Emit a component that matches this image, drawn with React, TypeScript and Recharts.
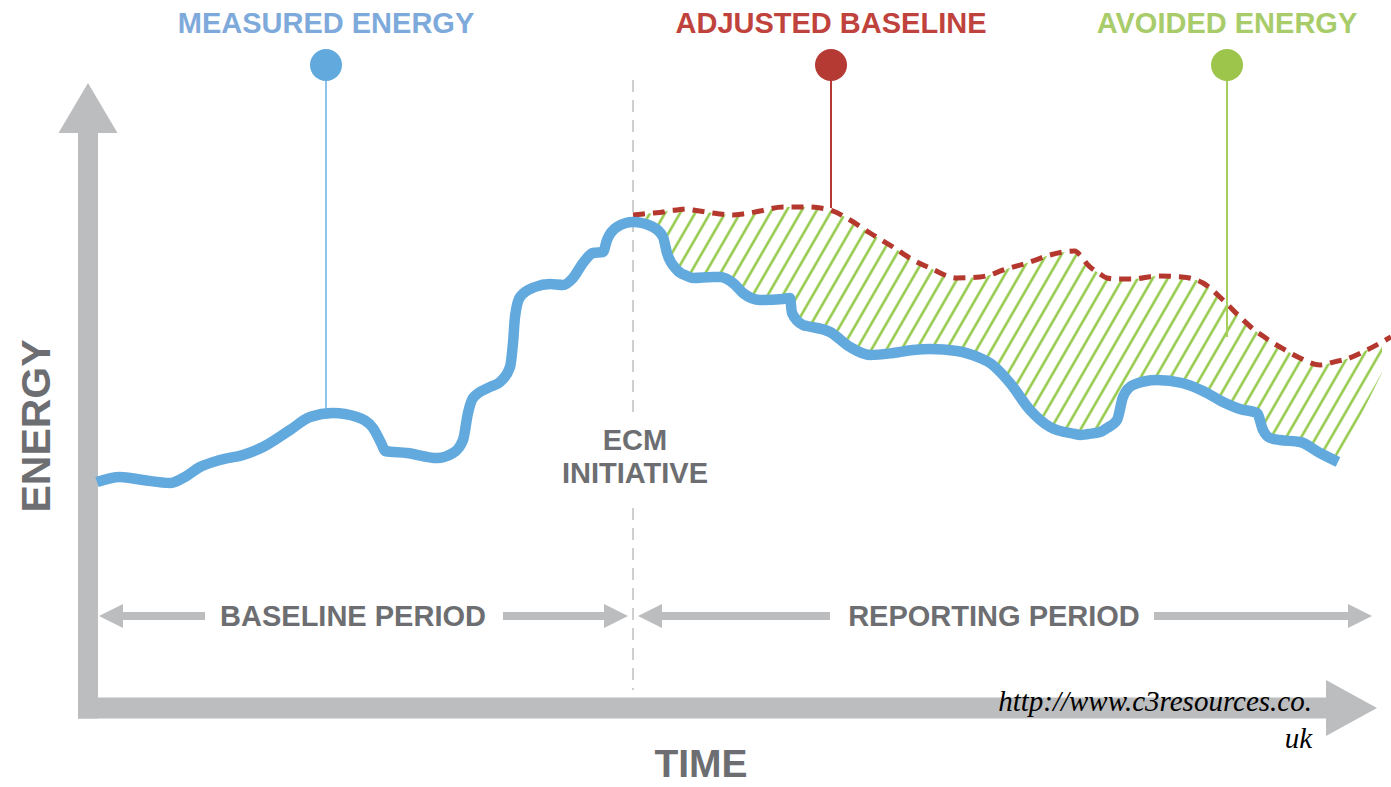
import React from "react";
import {
  Area,
  ComposedChart,
  Line,
  ReferenceDot,
  ReferenceLine,
  XAxis,
  YAxis,
} from "recharts";

// t = time, e = energy, both in the diagram's own units (10 px each)
const baselineT = [0, 2.3, 4.6, 7.3, 8.6, 10.3, 12.3, 14.6, 16.6, 19.3, 21.3, 23.6, 26.0, 27.6, 28.5, 28.8, 31.0, 34.0, 35.6, 36.6, 37.1, 37.6, 39.3, 40.3, 41.3, 41.6, 41.8, 42.3, 43.8, 45.3, 46.6, 47.6, 48.6, 49.6, 50.6, 51.0, 52.0];
const baselineMeasured = [22.6, 23.1, 22.8, 22.5, 23.0, 24.1, 24.8, 25.3, 26.1, 27.8, 29.1, 29.5, 29.1, 28.0, 26.3, 25.7, 25.5, 25.0, 25.5, 26.8, 29.5, 31.0, 32.1, 32.6, 34.1, 36.5, 39.1, 41.1, 42.1, 42.4, 42.3, 43.0, 44.5, 45.5, 45.6, 46.8, 48.1];

const reportT = [53.6, 55.6, 56.6, 57.0, 58.0, 59.0, 59.6, 61.6, 62.3, 63.6, 64.6, 66.3, 68.6, 69.3, 69.5, 70.6, 71.0, 73.3, 75.3, 77.3, 79.6, 81.6, 83.3, 86.0, 88.3, 89.3, 90.6, 91.3, 93.3, 95.3, 97.8, 98.3, 99.1, 100.3, 101.0, 102.0, 102.6, 103.6, 106.0, 108.5, 110.6, 112.6, 114.3, 116.0, 116.6, 117.3, 118.3, 120.3, 122.3, 124.1, 124.6, 127.0, 128.5, 129.4];
const reportMeasured: (number | null)[] = [
  48.6, 48.1, 47.1, 45.5, 43.8, 43.2, 43.0, 43.1, 43.1, 42.5,
  41.5, 40.8, 40.9, 41.0, 39.5, 38.3, 38.2, 37.6, 36.1, 35.3,
  35.5, 35.8, 35.9, 35.7, 35.0, 34.5, 33.3, 32.5, 29.8, 28.1,
  27.4, 27.3, 27.4, 27.6, 28.0, 28.8, 31.1, 32.3, 32.8, 32.5,
  31.7, 30.6, 29.9, 29.5, 27.8, 27.0, 26.8, 26.6, 25.5, 24.6,
  null, null, null, null,
];
const adjustedBaseline = [
  49.3, 49.5, 49.6, 49.7, 49.8, 49.9, 49.8, 49.5, 49.4, 49.3,
  49.4, 49.7, 50.1, 50.1, 50.1, 50.1, 50.1, 49.8, 48.8, 47.5,
  46.1, 44.8, 44.0, 43.0, 43.1, 43.3, 43.8, 44.0, 44.6, 45.3,
  45.7, 45.3, 44.3, 43.4, 43.0, 42.9, 42.9, 42.9, 43.2, 43.1,
  42.5, 40.8, 39.1, 37.6, 37.2, 36.7, 36.1, 35.0, 34.3, 34.7,
  34.8, 35.8, 36.6, 37.1,
];
// lower edge of the hatching after the measured line stops
const hatchEndT = [124.6, 127.0, 128.5];
const hatchEndFloor = [25.6, 30.5, 33.5];

const ecmT = 53.6;
const pinT = [22.9, 73.4, 113.0];
const pinEnd = [30.0, 50.0, 37.1];
const pinLabels = ["MEASURED ENERGY", "ADJUSTED BASELINE", "AVOIDED ENERGY"];
const periodLabels = ["BASELINE PERIOD", "REPORTING PERIOD"];
const periodLabelT = [25.6, 89.7];

const SANS = "'Liberation Sans', Arial, sans-serif";
const GREY = "#bcbdbf";
const TEXT_GREY = "#6d6e71";
const pinDot = ["#62a9de", "#b53a33", "#9dc44b"];
const pinLine = ["#8ac3eb", "#b53a33", "#a6cf5e"];
const pinText = ["#7eaadb", "#bf433c", "#a9cc6b"];

type TextSpec = {
  lines: string[];
  size: number;
  color: string;
  weight?: number;
  family?: string;
  italic?: boolean;
  anchor?: "start" | "middle" | "end";
  gap?: number;
  rotate?: number;
};

const textShape = (s: TextSpec) => (p: any) => (
  <text
    x={p.cx}
    y={p.cy}
    fill={s.color}
    fontSize={s.size}
    fontWeight={s.weight ?? 700}
    fontFamily={s.family ?? SANS}
    fontStyle={s.italic ? "italic" : "normal"}
    textAnchor={s.anchor ?? "middle"}
    transform={s.rotate ? `rotate(${s.rotate} ${p.cx} ${p.cy})` : undefined}
  >
    {s.lines.map((l, i) => (
      <tspan key={i} x={p.cx} dy={i === 0 ? 0 : s.gap}>
        {l}
      </tspan>
    ))}
  </text>
);

const head = (dir: "up" | "left" | "right", len: number, half: number, color: string) => (p: any) => {
  const { cx, cy } = p;
  let pts = "";
  if (dir === "up") pts = `${cx},${cy} ${cx - half},${cy + len} ${cx + half},${cy + len}`;
  if (dir === "right") pts = `${cx},${cy} ${cx - len},${cy - half} ${cx - len},${cy + half}`;
  if (dir === "left") pts = `${cx},${cy} ${cx + len},${cy - half} ${cx + len},${cy + half}`;
  return <polygon points={pts} fill={color} />;
};

export default function App() {
  const measuredRows = [
    ...baselineT.map((t, i) => ({ t, e: baselineMeasured[i] })),
    ...reportT.flatMap((t, i) => (reportMeasured[i] == null ? [] : [{ t, e: reportMeasured[i] }])),
  ];
  const baselineRows = reportT.map((t, i) => ({ t, e: adjustedBaseline[i] }));
  const bandRows = reportT.flatMap((t, i) => {
    const k = hatchEndT.indexOf(t);
    const low = reportMeasured[i] ?? (k >= 0 ? hatchEndFloor[k] : null);
    return low == null ? [] : [{ t, band: [low, adjustedBaseline[i]] }];
  });

  return (
    <div style={{ position: "absolute", left: 0, top: 0, width: 1391, height: 787, background: "#fff" }}>
      <ComposedChart width={1391} height={787} margin={{ top: 0, right: 0, bottom: 0, left: 0 }}>
        <defs>
          <pattern id="avoidedHatch" patternUnits="userSpaceOnUse" width={13} height={13} patternTransform="rotate(30)">
            <line x1={6.5} y1={0} x2={6.5} y2={13} stroke="#8dc63f" strokeWidth={2.4} />
          </pattern>
        </defs>
        <XAxis type="number" dataKey="t" domain={[-9.7, 129.4]} allowDataOverflow hide />
        <YAxis type="number" dataKey="e" domain={[-7.9, 70.8]} allowDataOverflow hide />

        {/* ECM divider */}
        <ReferenceLine segment={[{ x: ecmT, y: 62.8 }, { x: ecmT, y: 29.0 }]} stroke="#cfcfcf" strokeWidth={2} strokeDasharray="12 8" />
        <ReferenceLine segment={[{ x: ecmT, y: 20.0 }, { x: ecmT, y: 1.8 }]} stroke="#cfcfcf" strokeWidth={2} strokeDasharray="12 8" />

        {/* axes */}
        <ReferenceLine segment={[{ x: -0.9, y: -1.05 }, { x: -0.9, y: 57.6 }]} stroke={GREY} strokeWidth={20} />
        <ReferenceLine segment={[{ x: -1.9, y: 0 }, { x: 123.0, y: 0 }]} stroke={GREY} strokeWidth={21} />
        <ReferenceDot x={-0.9} y={62.5} r={1} shape={head("up", 50, 29.5, GREY)} />
        <ReferenceDot x={128.0} y={0} r={1} shape={head("right", 51, 28, GREY)} />

        {/* period arrows */}
        <ReferenceLine segment={[{ x: 2.5, y: 9.2 }, { x: 10.8, y: 9.2 }]} stroke={GREY} strokeWidth={8} />
        <ReferenceLine segment={[{ x: 40.6, y: 9.2 }, { x: 51.1, y: 9.2 }]} stroke={GREY} strokeWidth={8} />
        <ReferenceLine segment={[{ x: 56.4, y: 9.2 }, { x: 73.3, y: 9.2 }]} stroke={GREY} strokeWidth={8} />
        <ReferenceLine segment={[{ x: 105.7, y: 9.2 }, { x: 125.2, y: 9.2 }]} stroke={GREY} strokeWidth={8} />
        <ReferenceDot x={0.2} y={9.2} r={1} shape={head("left", 24, 12, GREY)} />
        <ReferenceDot x={53.1} y={9.2} r={1} shape={head("right", 24, 12, GREY)} />
        <ReferenceDot x={54.1} y={9.2} r={1} shape={head("left", 24, 12, GREY)} />
        <ReferenceDot x={127.5} y={9.2} r={1} shape={head("right", 24, 12, GREY)} />
        {periodLabels.map((l, i) => (
          <ReferenceDot key={l} x={periodLabelT[i]} y={8.2} r={1} shape={textShape({ lines: [l], size: 29, color: TEXT_GREY })} />
        ))}

        <Area
          data={bandRows}
          dataKey="band"
          type="monotone"
          fill="url(#avoidedHatch)"
          fillOpacity={1}
          stroke="none"
          isAnimationActive={false}
          activeDot={false}
        />
        <Line
          data={baselineRows}
          dataKey="e"
          type="monotone"
          stroke="#b5382f"
          strokeWidth={5}
          strokeDasharray="12 8"
          dot={false}
          activeDot={false}
          isAnimationActive={false}
        />
        <Line
          data={measuredRows}
          dataKey="e"
          type="monotone"
          stroke="#62a9de"
          strokeWidth={10.5}
          strokeLinejoin="round"
          dot={false}
          activeDot={false}
          isAnimationActive={false}
        />

        {/* callout pins */}
        {pinT.map((t, i) => (
          <ReferenceLine key={"pl" + i} segment={[{ x: t, y: 64.3 }, { x: t, y: pinEnd[i] }]} stroke={pinLine[i]} strokeWidth={2} />
        ))}
        {pinT.map((t, i) => (
          <ReferenceDot key={"pd" + i} x={t} y={64.3} r={16} fill={pinDot[i]} stroke="none" />
        ))}
        {pinT.map((t, i) => (
          <ReferenceDot key={"pt" + i} x={t} y={67.5} r={1} shape={textShape({ lines: [pinLabels[i]], size: 29, color: pinText[i] })} />
        ))}

        <ReferenceDot x={53.8} y={25.8} r={1} shape={textShape({ lines: ["ECM", "INITIATIVE"], size: 29, color: TEXT_GREY, gap: 33 })} />
        <ReferenceDot x={-4.7} y={28.2} r={1} shape={textShape({ lines: ["ENERGY"], size: 41, color: TEXT_GREY, rotate: -90 })} />
        <ReferenceDot x={60.4} y={-6.9} r={1} shape={textShape({ lines: ["TIME"], size: 39, color: TEXT_GREY })} />
        <ReferenceDot
          x={121.5}
          y={-0.3}
          r={1}
          shape={textShape({
            lines: ["http://www.c3resources.co.", "uk"],
            size: 29,
            color: "#000",
            weight: 400,
            family: "'Liberation Serif', 'Times New Roman', serif",
            italic: true,
            anchor: "end",
            gap: 37,
          })}
        />
      </ComposedChart>
    </div>
  );
}
